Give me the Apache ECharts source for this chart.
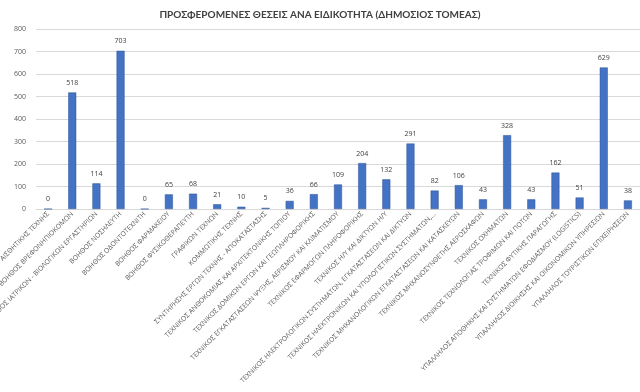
<!DOCTYPE html>
<html><head><meta charset="utf-8">
<script src="https://cdn.jsdelivr.net/npm/echarts@6/dist/echarts.min.js"></script>
<style>html,body{margin:0;padding:0;background:#fff}#c{width:640px;height:392px}</style>
</head><body><div id="c"></div>
<script>
const titleText = 'ΠΡΟΣΦΕΡΟΜΕΝΕΣ ΘΕΣΕΙΣ ΑΝΑ ΕΙΔΙΚΟΤΗΤΑ (ΔΗΜΟΣΙΟΣ ΤΟΜΕΑΣ)';
const categories = [
  'ΑΙΣΘΗΤΙΚΗΣ ΤΕΧΝΗΣ',
  'ΒΟΗΘΟΣ ΒΡΕΦΟΝΗΠΙΟΚΟΜΩΝ',
  'ΒΟΗΘΟΣ ΙΑΤΡΙΚΩΝ - ΒΙΟΛΟΓΙΚΩΝ ΕΡΓΑΣΤΗΡΙΩΝ',
  'ΒΟΗΘΟΣ ΝΟΣΗΛΕΥΤΗ',
  'ΒΟΗΘΟΣ ΟΔΟΝΤΟΤΕΧΝΙΤΗ',
  'ΒΟΗΘΟΣ ΦΑΡΜΑΚΕΙΟΥ',
  'ΒΟΗΘΟΣ ΦΥΣΙΚΟΘΕΡΑΠΕΥΤΗ',
  'ΓΡΑΦΙΚΩΝ ΤΕΧΝΩΝ',
  'ΚΟΜΜΩΤΙΚΗΣ ΤΕΧΝΗΣ',
  'ΣΥΝΤΗΡΗΣΗΣ ΕΡΓΩΝ ΤΕΧΝΗΣ - ΑΠΟΚΑΤΑΣΤΑΣΗΣ',
  'ΤΕΧΝΙΚΟΣ ΑΝΘΟΚΟΜΙΑΣ ΚΑΙ ΑΡΧΙΤΕΚΤΟΝΙΚΗΣ ΤΟΠΙΟΥ',
  'ΤΕΧΝΙΚΟΣ ΔΟΜΙΚΩΝ ΕΡΓΩΝ ΚΑΙ ΓΕΩΠΛΗΡΟΦΟΡΙΚΗΣ',
  'ΤΕΧΝΙΚΟΣ ΕΓΚΑΤΑΣΤΑΣΕΩΝ ΨΥΞΗΣ, ΑΕΡΙΣΜΟΥ ΚΑΙ ΚΛΙΜΑΤΙΣΜΟΥ',
  'ΤΕΧΝΙΚΟΣ ΕΦΑΡΜΟΓΩΝ ΠΛΗΡΟΦΟΡΙΚΗΣ',
  'ΤΕΧΝΙΚΟΣ Η/Υ ΚΑΙ ΔΙΚΤΥΩΝ Η/Υ',
  'ΤΕΧΝΙΚΟΣ ΗΛΕΚΤΡΟΛΟΓΙΚΩΝ ΣΥΣΤΗΜΑΤΩΝ, ΕΓΚΑΤΑΣΤΑΣΕΩΝ ΚΑΙ ΔΙΚΤΥΩΝ',
  'ΤΕΧΝΙΚΟΣ ΗΛΕΚΤΡΟΝΙΚΩΝ ΚΑΙ ΥΠΟΛΟΓΙΣΤΙΚΩΝ ΣΥΣΤΗΜΑΤΩΝ,...',
  'ΤΕΧΝΙΚΟΣ ΜΗΧΑΝΟΛΟΓΙΚΩΝ ΕΓΚΑΤΑΣΤΑΣΕΩΝ ΚΑΙ ΚΑΤΑΣΚΕΥΩΝ',
  'ΤΕΧΝΙΚΟΣ ΜΗΧΑΝΟΣΥΝΘΕΤΗΣ ΑΕΡΟΣΚΑΦΩΝ',
  'ΤΕΧΝΙΚΟΣ ΟΧΗΜΑΤΩΝ',
  'ΤΕΧΝΙΚΟΣ ΤΕΧΝΟΛΟΓΙΑΣ ΤΡΟΦΙΜΩΝ ΚΑΙ ΠΟΤΩΝ',
  'ΤΕΧΝΙΚΟΣ ΦΥΤΙΚΗΣ ΠΑΡΑΓΩΓΗΣ',
  'ΥΠΑΛΛΗΛΟΣ ΑΠΟΘΗΚΗΣ ΚΑΙ ΣΥΣΤΗΜΑΤΩΝ ΕΦΟΔΙΑΣΜΟΥ (LOGISTICS)',
  'ΥΠΑΛΛΗΛΟΣ ΔΙΟΙΚΗΣΗΣ ΚΑΙ ΟΙΚΟΝΟΜΙΚΩΝ ΥΠΗΡΕΣΙΩΝ',
  'ΥΠΑΛΛΗΛΟΣ ΤΟΥΡΙΣΤΙΚΩΝ ΕΠΙΧΕΙΡΗΣΕΩΝ'
];
const values = [0, 518, 114, 703, 0, 65, 68, 21, 10, 5, 36, 66, 109, 204, 132, 291, 82, 106, 43, 328, 43, 162, 51, 629, 38];
const yMin = 0, yMax = 800, yStep = 100;

const chart = echarts.init(document.getElementById('c'), null, {renderer: 'canvas'});
chart.setOption({
  animation: false,
  backgroundColor: '#ffffff',
  title: {
    text: titleText, left: 'center', top: 5,
    textStyle: {fontFamily: 'Lato', fontSize: 10, fontWeight: 'bold', color: '#404040'}
  },
  grid: {left: 36, right: 0, top: 29, bottom: 183, containLabel: false, outerBoundsMode: 'none'},
  xAxis: {
    type: 'category', data: categories,
    axisLine: {lineStyle: {color: '#d9d9d9'}},
    axisTick: {show: false},
    axisLabel: {interval: 0, rotate: 45, fontSize: 6.8, color: '#595959', fontFamily: 'Open Sans', margin: 4}
  },
  yAxis: {
    type: 'value', min: yMin, max: yMax, interval: yStep,
    axisLine: {show: false}, axisTick: {show: false},
    axisLabel: {fontSize: 7, color: '#595959', fontFamily: 'Open Sans', margin: 10},
    splitLine: {lineStyle: {color: '#d9d9d9', width: 1}}
  },
  series: [{
    type: 'bar', data: values, barWidth: 8,
    itemStyle: {color: '#4472C4', borderColor: '#2f5597', borderWidth: 0.5},
    label: {show: true, position: 'top', fontSize: 7, color: '#404040', fontFamily: 'Open Sans', distance: 6}
  }]
});
</script></body></html>
